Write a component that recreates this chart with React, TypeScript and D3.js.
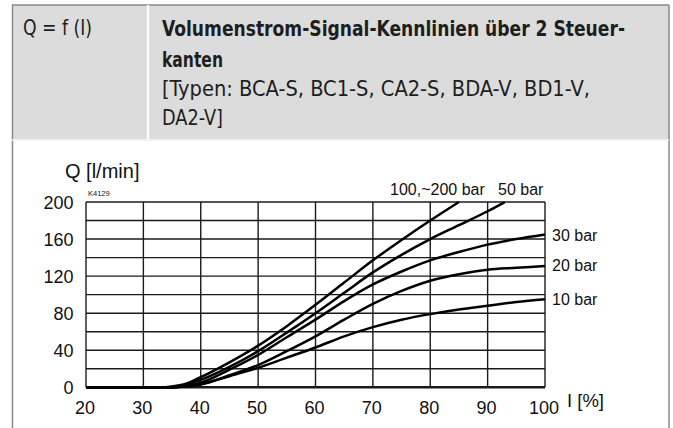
import * as d3 from "d3";

// Q = f(I) — Volumenstrom-Signal-Kennlinien
const xTicks = [20, 30, 40, 50, 60, 70, 80, 90, 100];
const yGrid = [0, 20, 40, 60, 80, 100, 120, 140, 160, 180, 200];
const yTicks = [0, 40, 80, 120, 160, 200];

// current I [%] per curve
const iTop = [20, 30, 33, 35, 37, 40, 45, 50, 55, 60, 65, 70, 75, 80, 85];
const iFifty = [20, 30, 34, 37, 40, 45, 50, 55, 60, 65, 70, 75, 80, 85, 90, 93];
const iLow = [20, 30, 35, 37, 40, 45, 50, 55, 60, 65, 70, 75, 80, 85, 90, 95, 100];

// flow Q [l/min]
const q100to200 = [0, 0, 0, 1, 3, 11, 27, 45, 66, 89, 113, 137, 159, 180, 200];
const q50 = [0, 0, 0, 2, 8, 22, 39, 59, 80, 102, 124, 143, 160, 175, 190, 200];
const q30 = [0, 0, 0, 1, 5, 19, 35, 54, 73, 93, 111, 125, 137, 146, 154, 160, 165];
const q20 = [0, 0, 0, 0.5, 3, 13, 24, 39, 55, 73, 90, 104, 115, 122, 127, 129, 131];
const q10 = [0, 0, 0, 1, 3.5, 12, 21, 32, 43, 55, 65, 73, 79, 84, 88, 92, 95];

const curves = [
  { i: iTop, q: q100to200 },
  { i: iFifty, q: q50 },
  { i: iLow, q: q30 },
  { i: iLow, q: q20 },
  { i: iLow, q: q10 },
];

const W = 673;
const H = 428;
const plot = { left: 86, right: 545, top: 202, bottom: 387.3 };

const condensed = "'Liberation Sans Narrow', 'DejaVu Sans Condensed', 'Roboto', sans-serif";
const sans = "'Liberation Sans', Arial, sans-serif";

export default function App() {
  const x = d3.scaleLinear().domain([20, 100]).range([plot.left, plot.right]);
  const y = d3.scaleLinear().domain([0, 200]).range([plot.bottom, plot.top]);

  const line = d3
    .line<[number, number]>()
    .x((d) => x(d[0]))
    .y((d) => y(d[1]))
    .curve(d3.curveMonotoneX);

  return (
    <svg
      width={W}
      height={H}
      style={{ position: "absolute", left: 0, top: 0, background: "#fff" }}
    >
      {/* header */}
      <rect x={12} y={5} width={657} height={134} fill="#dcdcdc" />
      <line x1={12} x2={669} y1={5} y2={5} stroke="#8a8a8a" strokeWidth={1.5} />
      <line x1={12.5} x2={12.5} y1={5} y2={H} stroke="#8a8a8a" strokeWidth={1.5} />
      <line x1={669} x2={669} y1={5} y2={H} stroke="#8a8a8a" strokeWidth={1.5} />
      <line x1={148} x2={148} y1={5} y2={139} stroke="#fff" strokeWidth={2.5} />
      <line x1={12} x2={669} y1={140} y2={140} stroke="#eeeeee" strokeWidth={1.5} />

      <g fill="#1e1e1e" fontFamily={condensed} fontSize={21}>
        <text x={23} y={35} textLength={69} lengthAdjust="spacingAndGlyphs">
          Q = f (I)
        </text>
        <text x={162} y={36} fontWeight="bold" textLength={463} lengthAdjust="spacingAndGlyphs">
          Volumenstrom-Signal-Kennlinien über 2 Steuer-
        </text>
        <text x={162} y={66.5} fontWeight="bold" textLength={61} lengthAdjust="spacingAndGlyphs">
          kanten
        </text>
        <text x={162} y={95.5} textLength={428} lengthAdjust="spacingAndGlyphs">
          [Typen: BCA-S, BC1-S, CA2-S, BDA-V, BD1-V,
        </text>
        <text x={162} y={125} textLength={61} lengthAdjust="spacingAndGlyphs">
          DA2-V]
        </text>
      </g>

      {/* grid */}
      <g stroke="#1a1a1a" strokeWidth={1.4}>
        {xTicks.map((t) => (
          <line key={"v" + t} x1={x(t)} x2={x(t)} y1={plot.top} y2={plot.bottom} />
        ))}
        {yGrid.map((t) => (
          <line
            key={"h" + t}
            x1={plot.left}
            x2={plot.right}
            y1={y(t)}
            y2={y(t)}
            strokeWidth={t === 0 ? 2.4 : 1.4}
          />
        ))}
      </g>

      {/* curves */}
      <g fill="none" stroke="#000" strokeWidth={2.5} strokeLinejoin="round">
        {curves.map((c, k) => (
          <path key={k} d={line(c.i.map((v, j) => [v, c.q[j]] as [number, number])) || ""} />
        ))}
      </g>

      {/* axes text */}
      <g fontFamily={sans} fill="#111">
        {yTicks.map((t) => (
          <text key={"yt" + t} x={73.5} y={y(t) + 6.5} fontSize={18} textAnchor="end">
            {t}
          </text>
        ))}
        {xTicks.map((t) => (
          <text key={"xt" + t} x={x(t) - 1} y={413.5} fontSize={18} textAnchor="middle">
            {t}
          </text>
        ))}
        <text x={65} y={178} fontSize={20}>
          Q [l/min]
        </text>
        <text x={567} y={407} fontSize={18.5}>
          I [%]
        </text>
        <text x={88} y={196} fontSize={7.5}>
          K4129
        </text>
        <text x={390} y={195} fontSize={16}>
          100,~200 bar
        </text>
        <text x={498} y={195} fontSize={16}>
          50 bar
        </text>
        <text x={552} y={241} fontSize={16}>
          30 bar
        </text>
        <text x={552} y={271} fontSize={16}>
          20 bar
        </text>
        <text x={552} y={304.5} fontSize={16}>
          10 bar
        </text>
      </g>
    </svg>
  );
}
